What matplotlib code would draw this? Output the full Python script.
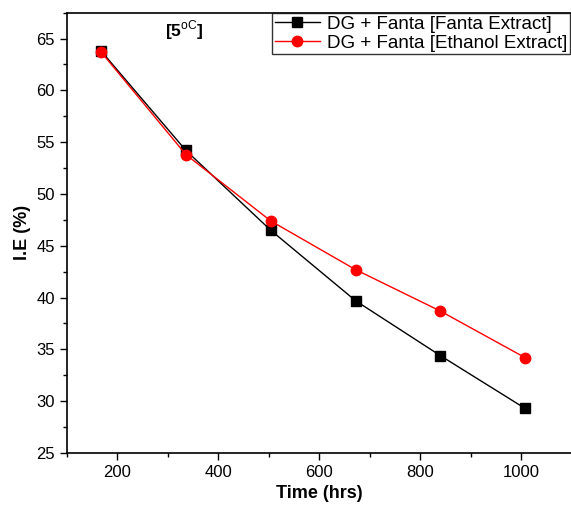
import matplotlib
matplotlib.use("Agg")
import matplotlib.pyplot as plt
from matplotlib.ticker import MultipleLocator

plt.rcParams['font.family'] = ['Liberation Sans', 'DejaVu Sans']
plt.rcParams['mathtext.fontset'] = 'custom'
plt.rcParams['mathtext.rm'] = 'Liberation Sans'

time_hrs = [168, 336, 504, 672, 840, 1008]
fanta_extract = [63.8, 54.2, 46.5, 39.7, 34.4, 29.3]
ethanol_extract = [63.7, 53.8, 47.4, 42.7, 38.7, 34.2]
labels = ["DG + Fanta [Fanta Extract]", "DG + Fanta [Ethanol Extract]"]

fig = plt.figure(figsize=(5.71, 5.18), dpi=100)
ax = fig.add_axes([0.117, 0.1255, 0.884, 0.85])

ax.plot(time_hrs, fanta_extract, color='black', marker='s', markersize=6.5, linewidth=1.0, label=labels[0])
ax.plot(time_hrs, ethanol_extract, color='red', marker='o', markersize=7.5, linewidth=1.0, label=labels[1])

ax.set_xlim(100, 1100)
ax.set_ylim(25, 67.5)
ax.xaxis.set_major_locator(MultipleLocator(200))
ax.xaxis.set_minor_locator(MultipleLocator(100))
ax.yaxis.set_major_locator(MultipleLocator(5))
ax.yaxis.set_minor_locator(MultipleLocator(2.5))
ax.tick_params(which='major', direction='out', length=5, width=1, labelsize=12, top=False, right=False)
ax.tick_params(which='minor', direction='out', length=3, width=1, top=False, right=False)
for s in ax.spines.values():
    s.set_linewidth(1.2)
ax.spines['right'].set_visible(False)

ax.set_xlabel("Time (hrs)", fontsize=13, fontweight='bold')
ax.set_ylabel("I.E (%)", fontsize=13, fontweight='bold')

ax.text(332, 65.8, r"[5$^{\rm oC}$]", fontsize=12.5, fontweight='bold', ha='center', va='center')

leg = ax.legend(loc='upper right', fontsize=13.5, frameon=True, fancybox=False, edgecolor='black',
                borderpad=0.15, labelspacing=0.1, handlelength=2.4, handletextpad=0.4,
                borderaxespad=0.0, bbox_to_anchor=(0.9975, 1.0))
leg.get_frame().set_linewidth(1.0)

fig.savefig("out.png", dpi=100)
